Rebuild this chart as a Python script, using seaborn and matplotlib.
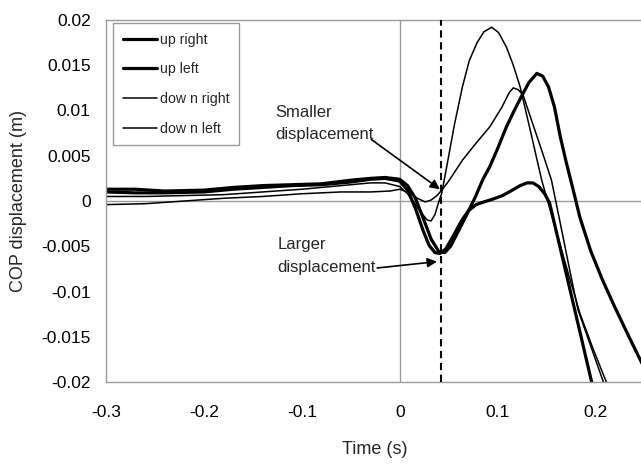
import matplotlib
matplotlib.use("Agg")
import matplotlib.pyplot as plt
import seaborn as sns
import pandas as pd

# ---------------- data ----------------
up_right_t = [-0.3, -0.27, -0.24, -0.2, -0.17, -0.14, -0.11, -0.08, -0.05, -0.03, -0.015, 0.0,
              0.008, 0.016, 0.024, 0.032, 0.04, 0.046, 0.052, 0.06, 0.068, 0.077, 0.085, 0.092,
              0.1, 0.109, 0.117, 0.125, 0.132, 0.14, 0.146, 0.152, 0.158, 0.164, 0.17, 0.177,
              0.184, 0.195, 0.207, 0.22, 0.235, 0.25]
up_right_y = [0.0013, 0.0013, 0.0011, 0.0012, 0.0015, 0.0017, 0.0018, 0.0019, 0.0023, 0.0025, 0.0026, 0.0024,
              0.0017, 0.0003, -0.0019, -0.0042, -0.0056, -0.0057, -0.0050, -0.0033, -0.0016, 0.0004, 0.0024, 0.0038,
              0.0058, 0.0082, 0.0100, 0.0117, 0.0131, 0.0141, 0.0138, 0.0126, 0.0104, 0.0071, 0.0043, 0.0013,
              -0.0018, -0.0055, -0.0087, -0.0118, -0.0152, -0.0185]

up_left_t = [-0.3, -0.27, -0.24, -0.2, -0.17, -0.14, -0.11, -0.08, -0.05, -0.03, -0.015, 0.0,
             0.008, 0.016, 0.024, 0.03, 0.036, 0.041, 0.047, 0.055, 0.063, 0.07, 0.078, 0.086,
             0.095, 0.105, 0.115, 0.123, 0.13, 0.136, 0.142, 0.148, 0.153, 0.165, 0.175, 0.185, 0.196]
up_left_y = [0.0010, 0.0009, 0.0009, 0.0010, 0.0013, 0.0015, 0.0017, 0.0018, 0.0021, 0.0024, 0.0025, 0.0022,
             0.0012, -0.0008, -0.0033, -0.0049, -0.0057, -0.0058, -0.0053, -0.0038, -0.0022, -0.0011, -0.0004, -0.0001,
             0.0002, 0.0006, 0.0012, 0.0017, 0.0020, 0.0020, 0.0016, 0.0008, -0.0002, -0.0057, -0.0103, -0.0149, -0.0200]

down_right_t = [-0.3, -0.26, -0.22, -0.18, -0.14, -0.1, -0.08, -0.05, -0.03, -0.015, 0.0, 0.008,
                0.015, 0.022, 0.028, 0.032, 0.036, 0.039, 0.043, 0.048, 0.056, 0.064, 0.071, 0.079,
                0.086, 0.094, 0.101, 0.109, 0.116, 0.123, 0.134, 0.145, 0.155, 0.165, 0.174, 0.184,
                0.197, 0.211]
down_right_y = [0.0005, 0.0005, 0.0006, 0.0007, 0.0010, 0.0013, 0.0015, 0.0018, 0.0020, 0.0020, 0.0016, 0.0008,
                -0.0002, -0.0013, -0.0021, -0.0022, -0.0015, -0.0004, 0.0009, 0.0038, 0.0085, 0.0126, 0.0155, 0.0175,
                0.0187, 0.0192, 0.0186, 0.0170, 0.0150, 0.0126, 0.0075, 0.0023, -0.0015, -0.0053, -0.0087, -0.0124,
                -0.0162, -0.0200]

down_left_t = [-0.3, -0.26, -0.22, -0.18, -0.14, -0.1, -0.06, -0.03, -0.01, 0.0, 0.01, 0.018,
               0.026, 0.032, 0.038, 0.043, 0.05, 0.064, 0.078, 0.092, 0.104, 0.112, 0.116, 0.121,
               0.126, 0.135, 0.145, 0.155, 0.165, 0.173, 0.182, 0.195, 0.208]
down_left_y = [-0.0004, -0.0003, 0.0000, 0.0003, 0.0005, 0.0008, 0.0010, 0.0010, 0.0011, 0.0013, 0.0009, 0.0003,
               -0.0001, 0.0001, 0.0006, 0.0012, 0.0022, 0.0045, 0.0064, 0.0082, 0.0103, 0.0120, 0.0125, 0.0123,
               0.0117, 0.0088, 0.0056, 0.0023, -0.0030, -0.0073, -0.0120, -0.0160, -0.0200]

series_names = ["up right", "up left", "dow n right", "dow n left"]
x_ticks = [-0.3, -0.2, -0.1, 0, 0.1, 0.2]
x_tick_labels = ["-0.3", "-0.2", "-0.1", "0", "0.1", "0.2"]
y_ticks = [0.02, 0.015, 0.01, 0.005, 0, -0.005, -0.01, -0.015, -0.02]
y_tick_labels = ["0.02", "0.015", "0.01", "0.005", "0", "-0.005", "-0.01", "-0.015", "-0.02"]
onset_time = 0.042

# ---------------- plot ----------------
sns.set_theme(style="white")
plt.rcParams['font.family'] = ['Liberation Sans', 'DejaVu Sans']

W, H = 641, 466
fig = plt.figure(figsize=(W / 100, H / 100), dpi=100)
ax = fig.add_axes([106 / W, 1 - 382 / H, (644.5 - 106) / W, (382 - 20) / H])

frames = [
    (up_right_t, up_right_y, 2.3),
    (up_left_t, up_left_y, 2.3),
    (down_right_t, down_right_y, 1.1),
    (down_left_t, down_left_y, 1.1),
]
for (t, y, lw), name in zip(frames, series_names):
    df = pd.DataFrame({"Time": t, "COP": y})
    sns.lineplot(data=df, x="Time", y="COP", ax=ax, color="black", linewidth=lw,
                 label=name, estimator=None, sort=False)

ax.axvline(0, color="#9a9a9a", lw=1.0, zorder=0)
ax.axhline(0, color="#9a9a9a", lw=1.0, zorder=0)
ax.axvline(onset_time, color="black", lw=1.5, ls=(0, (3.5, 2.2)), zorder=3)

ax.set_xlim(-0.3, 0.25)
ax.set_ylim(-0.02, 0.02)
ax.set_xticks(x_ticks)
ax.set_xticklabels(x_tick_labels)
ax.set_yticks(y_ticks)
ax.set_yticklabels(y_tick_labels)
ax.tick_params(axis="both", length=0, labelsize=12.5, colors="black")
ax.tick_params(axis="y", pad=11)
ax.tick_params(axis="x", pad=16.5)

for s in ax.spines.values():
    s.set_color("#9a9a9a")
    s.set_linewidth(1.0)

ax.set_xlabel("Time (s)", fontsize=13, labelpad=15.5)
ax.set_ylabel("COP displacement (m)", fontsize=13, labelpad=10)

# annotations
fs_ann = 12
ax.text(-0.127, 0.0098, "Smaller", fontsize=fs_ann, ha="left", va="center")
ax.text(-0.127, 0.0073, "displacement", fontsize=fs_ann, ha="left", va="center")
ax.annotate("", xy=(0.041, 0.0013), xytext=(-0.029, 0.0068),
            arrowprops=dict(arrowstyle="-|>", color="black", lw=1.2, mutation_scale=14,
                            shrinkA=0, shrinkB=0))
ax.text(-0.125, -0.0048, "Larger", fontsize=fs_ann, ha="left", va="center")
ax.text(-0.125, -0.0074, "displacement", fontsize=fs_ann, ha="left", va="center")
ax.annotate("", xy=(0.038, -0.0067), xytext=(-0.023, -0.0074),
            arrowprops=dict(arrowstyle="-|>", color="black", lw=1.2, mutation_scale=14,
                            shrinkA=0, shrinkB=0))

leg = ax.legend(loc="upper left", bbox_to_anchor=(0.013, 0.992), borderaxespad=0,
                fontsize=10.2, frameon=True, fancybox=False, edgecolor="#9a9a9a", framealpha=1,
                handlelength=2.4, handletextpad=0.2, labelspacing=1.1, borderpad=0.7)
leg.get_frame().set_linewidth(1.0)

fig.savefig("out.png", dpi=100)
